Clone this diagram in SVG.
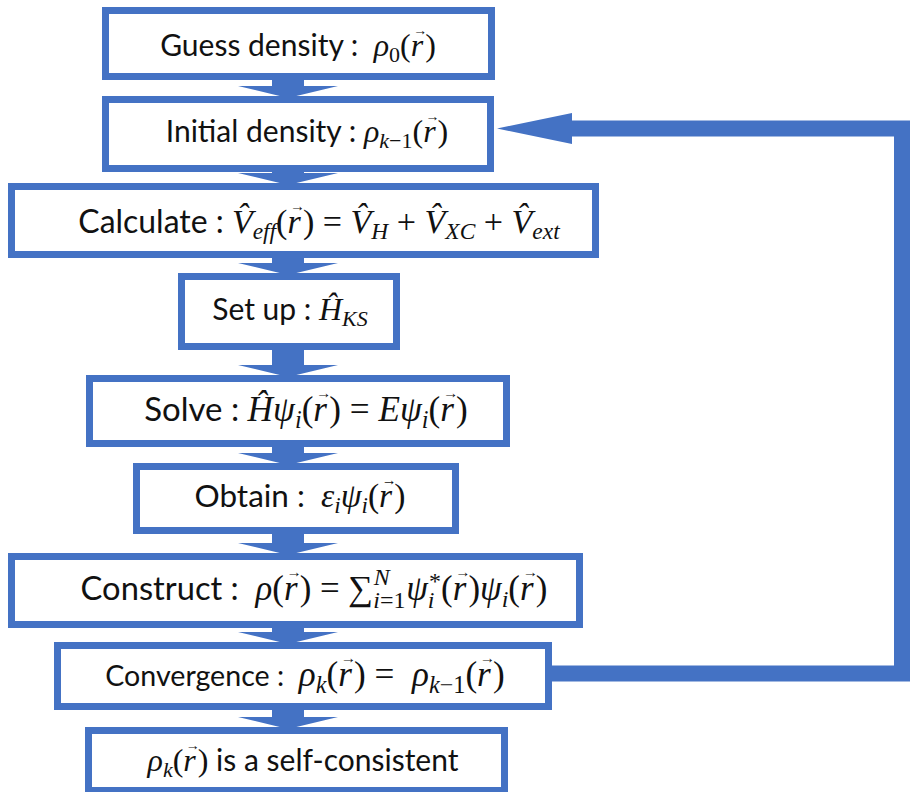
<svg xmlns="http://www.w3.org/2000/svg" width="910" height="792" viewBox="0 0 910 792">
<style>
.box{fill:#fff;stroke:#4472C4;stroke-width:7}
.arr{fill:#4472C4}
.loop{fill:none;stroke:#4472C4;stroke-width:16;stroke-linejoin:miter}
.t{font-family:Lato,"Open Sans",sans-serif;font-size:30px;fill:#111}
.m{font-family:"Liberation Serif","DejaVu Serif",serif;font-style:italic;font-size:32px}
.u{font-family:"Liberation Serif","DejaVu Serif",serif;font-style:normal;font-size:32px}
.si{font-family:"Liberation Serif","DejaVu Serif",serif;font-style:italic;font-size:22px}
.su{font-family:"Liberation Serif","DejaVu Serif",serif;font-style:normal;font-size:22px}
.va{font-family:"Liberation Serif","DejaVu Serif",serif;font-style:normal;font-size:14px}
</style>
<rect width="910" height="792" fill="#fff"/>
<g id="connectors">
<path class="arr" d="M272,76H304V86H338L288,98L238,86H272Z"/>
<path class="arr" d="M272,168H304V173H338L288,185L238,173H272Z"/>
<path class="arr" d="M272,254H304V263H338L288,275L238,263H272Z"/>
<path class="arr" d="M272,346H304V365H338L288,377L238,365H272Z"/>
<path class="arr" d="M272,443H304V453H338L288,465L238,453H272Z"/>
<path class="arr" d="M272,530H304V543H338L288,555L238,543H272Z"/>
<path class="arr" d="M272,624H304V632H338L288,644L238,632H272Z"/>
<path class="arr" d="M272,706H304V717H338L288,729L238,717H272Z"/>
<polyline class="loop" points="548,673.5 902,673.5 902,128.5 568,128.5"/>
<polygon class="arr" points="572,113 497,128.5 572,144"/>
</g>
<g id="guess"><rect class="box" x="105.5" y="10.5" width="386" height="66"/>
<text x="298" y="56" text-anchor="middle" class="t">Guess density :&#160; <tspan class="m">ρ</tspan><tspan class="su" dy="6">0</tspan><tspan class="u" dy="-6">(</tspan><tspan class="m">r</tspan><tspan class="va" dx="-10" dy="-21">→</tspan><tspan class="u" dx="-2" dy="21">)</tspan></text></g>
<g id="initial"><rect class="box" x="105.5" y="99.5" width="385" height="69"/>
<text x="307" y="142" text-anchor="middle" class="t">Initial density : <tspan class="m">ρ</tspan><tspan class="si" dy="6">k</tspan><tspan class="su">−1</tspan><tspan class="u" dy="-6">(</tspan><tspan class="m">r</tspan><tspan class="va" dx="-10" dy="-21">→</tspan><tspan class="u" dx="-2" dy="21">)</tspan></text></g>
<g id="calculate"><rect class="box" x="11.5" y="186.5" width="584" height="68"/>
<text x="319" y="233" text-anchor="middle" class="t" transform="translate(319 233) scale(1.065) translate(-319 -233)">Calculate : <tspan class="m">V̂</tspan><tspan class="si" dy="6">eff</tspan><tspan class="u" dy="-6">(</tspan><tspan class="m">r</tspan><tspan class="va" dx="-10" dy="-21">→</tspan><tspan class="u" dx="-2" dy="21">) = </tspan><tspan class="m">V̂</tspan><tspan class="si" dy="6">H</tspan><tspan class="u" dy="-6"> + </tspan><tspan class="m">V̂</tspan><tspan class="si" dy="6">XC</tspan><tspan class="u" dy="-6"> + </tspan><tspan class="m">V̂</tspan><tspan class="si" dy="6">ext</tspan></text></g>
<g id="setup"><rect class="box" x="181.5" y="276.5" width="215" height="70"/>
<text x="290" y="320" text-anchor="middle" class="t">Set up : <tspan class="m">Ĥ</tspan><tspan class="si" dy="6">KS</tspan></text></g>
<g id="solve"><rect class="box" x="89.5" y="378.5" width="417" height="65"/>
<text x="306" y="421" text-anchor="middle" class="t" transform="translate(306 421) scale(1.1) translate(-306 -421)">Solve : <tspan class="m">Ĥψ</tspan><tspan class="si" dy="6">i</tspan><tspan class="u" dy="-6">(</tspan><tspan class="m">r</tspan><tspan class="va" dx="-10" dy="-21">→</tspan><tspan class="u" dx="-2" dy="21">) = </tspan><tspan class="m">Eψ</tspan><tspan class="si" dy="6">i</tspan><tspan class="u" dy="-6">(</tspan><tspan class="m">r</tspan><tspan class="va" dx="-10" dy="-21">→</tspan><tspan class="u" dx="-2" dy="21">)</tspan></text></g>
<g id="obtain"><rect class="box" x="136.5" y="466.5" width="319" height="64"/>
<text x="300" y="507" text-anchor="middle" class="t" transform="translate(300 507) scale(1.05) translate(-300 -507)">Obtain :&#160; <tspan class="m">ε</tspan><tspan class="si" dy="6">i</tspan><tspan class="m" dy="-6">ψ</tspan><tspan class="si" dy="6">i</tspan><tspan class="u" dy="-6">(</tspan><tspan class="m">r</tspan><tspan class="va" dx="-10" dy="-21">→</tspan><tspan class="u" dx="-2" dy="21">)</tspan></text></g>
<g id="construct"><rect class="box" x="11.5" y="556.5" width="568" height="68"/>
<text x="314" y="600" text-anchor="middle" class="t" transform="translate(314 600) scale(1.09) translate(-314 -600)">Construct :&#160; <tspan class="m">ρ</tspan><tspan class="u">(</tspan><tspan class="m">r</tspan><tspan class="va" dx="-10" dy="-21">→</tspan><tspan class="u" dx="-2" dy="21">) = ∑</tspan><tspan class="si" dy="7">i</tspan><tspan class="su">=1</tspan><tspan class="si" dx="-29" dy="-21">N</tspan><tspan class="m" dx="15" dy="14">ψ</tspan><tspan class="si" dy="7">i</tspan><tspan class="su" dx="-5" dy="-17">*</tspan><tspan class="u" dy="10">(</tspan><tspan class="m">r</tspan><tspan class="va" dx="-10" dy="-21">→</tspan><tspan class="u" dx="-2" dy="21">)</tspan><tspan class="m">ψ</tspan><tspan class="si" dy="6">i</tspan><tspan class="u" dy="-6">(</tspan><tspan class="m">r</tspan><tspan class="va" dx="-10" dy="-21">→</tspan><tspan class="u" dx="-2" dy="21">)</tspan></text></g>
<g id="convergence"><rect class="box" x="57.5" y="645.5" width="491" height="61"/>
<text x="305" y="686" text-anchor="middle" class="t" transform="translate(305 686) scale(1.1) translate(-305 -686)"><tspan style="font-size:26px">Convergence :&#160; </tspan><tspan class="m">ρ</tspan><tspan class="si" dy="6">k</tspan><tspan class="u" dy="-6">(</tspan><tspan class="m">r</tspan><tspan class="va" dx="-10" dy="-21">→</tspan><tspan class="u" dx="-2" dy="21">) =&#160; </tspan><tspan class="m">ρ</tspan><tspan class="si" dy="6">k</tspan><tspan class="su">−1</tspan><tspan class="u" dy="-6">(</tspan><tspan class="m">r</tspan><tspan class="va" dx="-10" dy="-21">→</tspan><tspan class="u" dx="-2" dy="21">)</tspan></text></g>
<g id="selfconsistent"><rect class="box" x="88.5" y="730.5" width="416" height="60"/>
<text x="303" y="771" text-anchor="middle" class="t"><tspan class="m">ρ</tspan><tspan class="si" dy="6">k</tspan><tspan class="u" dy="-6">(</tspan><tspan class="m">r</tspan><tspan class="va" dx="-10" dy="-21">→</tspan><tspan class="u" dx="-2" dy="21">)</tspan> is a self-consistent</text></g>
</svg>
